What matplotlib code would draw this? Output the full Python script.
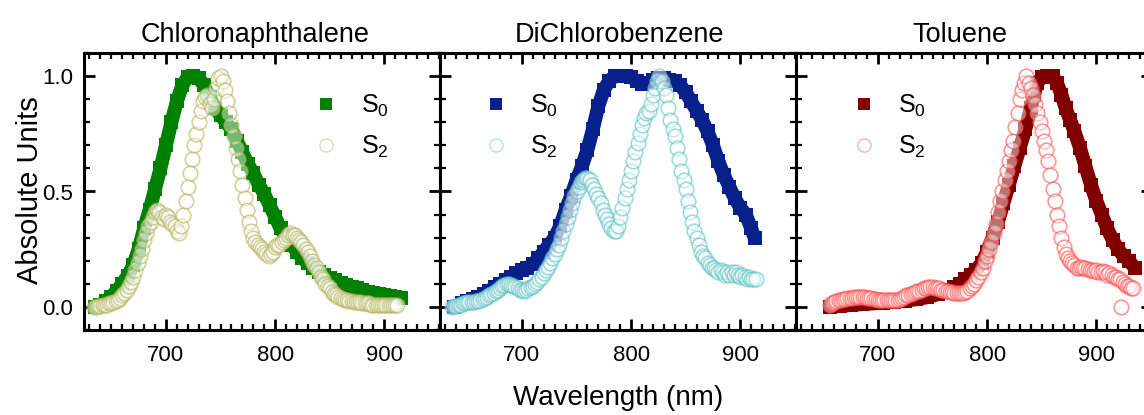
import numpy as np
import matplotlib
matplotlib.use("Agg")
import matplotlib.pyplot as plt
from matplotlib.colors import to_rgba
from matplotlib.ticker import MultipleLocator

plt.rcParams['font.family'] = ['Liberation Sans', 'DejaVu Sans']
plt.rcParams['mathtext.fontset'] = 'custom'
plt.rcParams['mathtext.rm'] = 'Liberation Sans'

titles = ["Chloronaphthalene", "DiChlorobenzene", "Toluene"]

# --- Chloronaphthalene ---
cn_s0_wl = [635, 640, 645, 650, 655, 660, 665, 670, 675, 680, 685, 690, 695, 700,
            705, 710, 715, 720, 725, 730, 735, 740, 745, 750, 755, 760, 765, 770,
            775, 780, 785, 790, 795, 800, 805, 810, 815, 820, 825, 830, 835, 840,
            845, 850, 855, 860, 865, 870, 875, 880, 885, 890, 895, 900, 905, 910, 915]
cn_s0 = [0.00, 0.01, 0.025, 0.045, 0.07, 0.10, 0.135, 0.18, 0.25, 0.34, 0.42, 0.51,
         0.60, 0.70, 0.80, 0.89, 0.96, 0.995, 1.0, 0.99, 0.96, 0.91, 0.86, 0.83, 0.80,
         0.77, 0.72, 0.67, 0.62, 0.58, 0.53, 0.49, 0.44, 0.39, 0.34, 0.30, 0.27, 0.24,
         0.21, 0.19, 0.17, 0.15, 0.14, 0.125, 0.115, 0.105, 0.095, 0.088, 0.08, 0.072,
         0.066, 0.06, 0.055, 0.05, 0.046, 0.042, 0.038]
# S2 spectra are sampled every 2 nm
cn_s2_start = 634
cn_s2 = [0.00, 0.00, 0.005, 0.005, 0.01, 0.01, 0.01, 0.015, 0.015, 0.02,
         0.025, 0.03, 0.04, 0.05, 0.06, 0.075, 0.09, 0.11, 0.13, 0.16,
         0.19, 0.22, 0.25, 0.29, 0.32, 0.35, 0.37, 0.39, 0.41, 0.42,
         0.41, 0.39, 0.38, 0.40, 0.39, 0.37, 0.36, 0.35, 0.33, 0.32,
         0.35, 0.40, 0.46, 0.52, 0.58, 0.64, 0.70, 0.75, 0.80, 0.85,
         0.89, 0.91, 0.92, 0.88, 0.86, 0.90, 0.95, 0.99, 1.0, 0.98,
         0.94, 0.89, 0.84, 0.79, 0.74, 0.69, 0.64, 0.59, 0.53, 0.47,
         0.42, 0.37, 0.33, 0.30, 0.28, 0.27, 0.26, 0.25, 0.24, 0.23,
         0.22, 0.23, 0.24, 0.26, 0.27, 0.27, 0.28, 0.29, 0.30, 0.31,
         0.32, 0.31, 0.31, 0.30, 0.29, 0.28, 0.27, 0.25, 0.24, 0.22,
         0.20, 0.18, 0.17, 0.15, 0.13, 0.12, 0.10, 0.09, 0.08, 0.065,
         0.055, 0.05, 0.045, 0.04, 0.035, 0.03, 0.03, 0.025, 0.025, 0.02,
         0.02, 0.02, 0.02, 0.015, 0.015, 0.015, 0.015, 0.01, 0.01, 0.01,
         0.01, 0.01, 0.01, 0.01, 0.01, 0.01, 0.01, 0.01, 0.01, 0.01]

# --- DiChlorobenzene ---
dcb_s0_wl = [638, 645, 650, 655, 660, 665, 670, 675, 680, 685, 690, 695, 700, 705, 710,
             715, 720, 725, 730, 735, 740, 745, 750, 755, 760, 765, 770, 775, 780, 785,
             790, 795, 800, 805, 810, 815, 820, 825, 830, 835, 840, 845, 850, 855, 860,
             865, 870, 875, 880, 885, 890, 895, 900, 905, 910, 913]
dcb_s0 = [0.00, 0.015, 0.025, 0.035, 0.045, 0.055, 0.07, 0.085, 0.10, 0.115, 0.13, 0.145,
          0.16, 0.17, 0.185, 0.21, 0.24, 0.27, 0.30, 0.35, 0.42, 0.48, 0.55, 0.61, 0.68,
          0.77, 0.87, 0.94, 0.98, 1.0, 1.0, 1.0, 0.995, 0.98, 0.965, 0.97, 0.985, 0.99,
          0.99, 0.985, 0.98, 0.96, 0.93, 0.89, 0.85, 0.81, 0.76, 0.70, 0.63, 0.57, 0.52,
          0.47, 0.43, 0.40, 0.34, 0.30]
dcb_s2_start = 636
dcb_s2 = [0.00, 0.005, 0.005, 0.01, 0.01, 0.015, 0.015, 0.02, 0.02, 0.02,
          0.02, 0.025, 0.025, 0.03, 0.035, 0.04, 0.045, 0.05, 0.055, 0.06,
          0.07, 0.075, 0.08, 0.09, 0.095, 0.10, 0.10, 0.095, 0.09, 0.085,
          0.08, 0.075, 0.075, 0.07, 0.075, 0.08, 0.085, 0.09, 0.10, 0.11,
          0.12, 0.13, 0.145, 0.16, 0.175, 0.19, 0.21, 0.23, 0.25, 0.27,
          0.30, 0.33, 0.36, 0.39, 0.42, 0.45, 0.48, 0.50, 0.52, 0.54,
          0.55, 0.56, 0.56, 0.55, 0.53, 0.51, 0.49, 0.47, 0.45, 0.42,
          0.40, 0.38, 0.36, 0.34, 0.33, 0.33, 0.35, 0.39, 0.43, 0.47,
          0.51, 0.55, 0.59, 0.63, 0.67, 0.71, 0.75, 0.79, 0.82, 0.84,
          0.85, 0.88, 0.92, 0.95, 0.98, 1.0, 0.98, 0.95, 0.92, 0.86,
          0.81, 0.77, 0.74, 0.69, 0.64, 0.59, 0.55, 0.51, 0.46, 0.41,
          0.37, 0.33, 0.30, 0.27, 0.24, 0.22, 0.21, 0.19, 0.18, 0.17,
          0.17, 0.16, 0.15, 0.16, 0.15, 0.14, 0.15, 0.14, 0.15, 0.14,
          0.15, 0.14, 0.13, 0.14, 0.13, 0.12, 0.13, 0.12, 0.12, 0.12]

# --- Toluene ---
tol_s0_wl = [656, 665, 675, 685, 695, 705, 715, 725, 735, 745, 755, 765, 770, 775, 780,
             785, 790, 795, 800, 805, 810, 815, 820, 825, 830, 835, 840, 843, 846, 850,
             855, 860, 864, 868, 872, 876, 880, 885, 890, 895, 900, 905, 910, 915, 920,
             925, 930, 935]
tol_s0 = [0.0, 0.005, 0.008, 0.012, 0.015, 0.018, 0.022, 0.027, 0.033, 0.042, 0.055,
          0.072, 0.085, 0.10, 0.12, 0.14, 0.16, 0.19, 0.24, 0.30, 0.37, 0.45, 0.53, 0.61,
          0.69, 0.77, 0.86, 0.92, 0.97, 0.995, 1.0, 1.0, 0.97, 0.92, 0.86, 0.81, 0.76,
          0.69, 0.61, 0.53, 0.46, 0.40, 0.34, 0.29, 0.25, 0.22, 0.20, 0.17]
tol_s2_start = 656
tol_s2 = [0.01, 0.015, 0.02, 0.025, 0.03, 0.03, 0.035, 0.035, 0.04, 0.04,
          0.04, 0.045, 0.045, 0.045, 0.045, 0.045, 0.045, 0.04, 0.04, 0.04,
          0.035, 0.035, 0.03, 0.03, 0.03, 0.028, 0.028, 0.028, 0.03, 0.03,
          0.03, 0.032, 0.035, 0.04, 0.045, 0.05, 0.05, 0.055, 0.06, 0.065,
          0.07, 0.07, 0.075, 0.08, 0.08, 0.085, 0.085, 0.085, 0.08, 0.08,
          0.08, 0.075, 0.075, 0.07, 0.07, 0.065, 0.065, 0.06, 0.06, 0.06,
          0.06, 0.06, 0.065, 0.07, 0.08, 0.09, 0.10, 0.115, 0.13, 0.15,
          0.17, 0.20, 0.22, 0.25, 0.28, 0.32, 0.36, 0.41, 0.46, 0.50,
          0.55, 0.59, 0.63, 0.68, 0.72, 0.78, 0.84, 0.90, 0.94, 0.97,
          1.0, 0.97, 0.95, 0.92, 0.88, 0.84, 0.80, 0.76, 0.72, 0.68,
          0.63, 0.57, 0.51, 0.46, 0.40, 0.35, 0.30, 0.26, 0.23, 0.21,
          0.20, 0.19, 0.18, 0.17, 0.17, 0.175, 0.17, 0.17, 0.165, 0.16,
          0.16, 0.155, 0.16, 0.15, 0.15, 0.155, 0.15, 0.14, 0.145, 0.14,
          0.13, 0.13, 0.12, 0.12, 0.11, 0.10, 0.09, 0.09, 0.08, 0.08]
tol_s2_stray_wl = [923]
tol_s2_stray = [0.0]

step = 2
s0_sets = [(cn_s0_wl, cn_s0), (dcb_s0_wl, dcb_s0), (tol_s0_wl, tol_s0)]
s2_sets = [
    (cn_s2_start + step * np.arange(len(cn_s2)), cn_s2),
    (dcb_s2_start + step * np.arange(len(dcb_s2)), dcb_s2),
    (np.append(tol_s2_start + step * np.arange(len(tol_s2)), tol_s2_stray_wl),
     tol_s2 + tol_s2_stray),
]
s0_colors = ['#008000', '#08208a', '#800000']
s2_colors = ['#b5b560', '#5fc4c4', '#ff5252']
legend_x = [0.68, 0.157, 0.19]
title_x = [0.48, 0.505, 0.46]

W, H = 1144, 415
fig = plt.figure(figsize=(W / 100, H / 100), dpi=100)
lefts = [84, 440, 796]
pw, pb, ph = 356, 330, 277

for i in range(3):
    ax = fig.add_axes([lefts[i] / W, 1 - pb / H, pw / W, ph / H])
    wl, s0 = s0_sets[i]
    ax.plot(wl, s0, color=s0_colors[i], lw=10, solid_capstyle='butt', zorder=2)
    ax.plot(wl, s0, ls='none', marker='s', ms=10, color=s0_colors[i], mew=0, zorder=2)
    wl2, s2 = s2_sets[i]
    ax.plot(wl2, s2, ls='none', marker='o', ms=10.5, mfc=(1, 1, 1, 0.45),
            mec=to_rgba(s2_colors[i], 0.6), mew=1.2, zorder=3)

    ax.set_xlim(625, 951)
    ax.set_ylim(-0.1, 1.1)
    ax.xaxis.set_major_locator(MultipleLocator(100))
    ax.xaxis.set_minor_locator(MultipleLocator(10))
    ax.yaxis.set_major_locator(MultipleLocator(0.5))
    ax.yaxis.set_minor_locator(MultipleLocator(0.1))
    ax.tick_params(which='both', direction='in', top=True, right=True)
    ax.tick_params(which='major', length=8, width=2.0, labelsize=16, pad=8)
    ax.tick_params(which='minor', length=4, width=1.6)
    ax.tick_params(axis='x', pad=11)
    if i > 0:
        ax.tick_params(axis='y', labelleft=False)
    for sp in ax.spines.values():
        sp.set_linewidth(2.2)

    ax.set_title(titles[i], fontsize=19.5, pad=8, x=title_x[i])

    # legend drawn by hand
    lx = legend_x[i]
    ax.plot([lx], [0.816], transform=ax.transAxes, marker='s', ms=8.5, ls='none',
            color=s0_colors[i], mew=0, clip_on=False)
    ax.plot([lx], [0.668], transform=ax.transAxes, marker='o', ms=9.5, ls='none',
            mfc='white', mec=to_rgba(s2_colors[i], 0.45), mew=1.0, clip_on=False)
    ax.text(lx + 0.097, 0.783, r'S$_\mathregular{0}$', transform=ax.transAxes,
            fontsize=18, va='baseline', ha='left')
    ax.text(lx + 0.097, 0.635, r'S$_\mathregular{2}$', transform=ax.transAxes,
            fontsize=18, va='baseline', ha='left')

fig.text(30 / W, 1 - 190 / H, "Absolute Units", rotation=90, fontsize=21,
         ha='center', va='center')
fig.text(618 / W, 1 - 398 / H, "Wavelength (nm)", fontsize=20, ha='center', va='center')

fig.savefig("out.png", dpi=100)
